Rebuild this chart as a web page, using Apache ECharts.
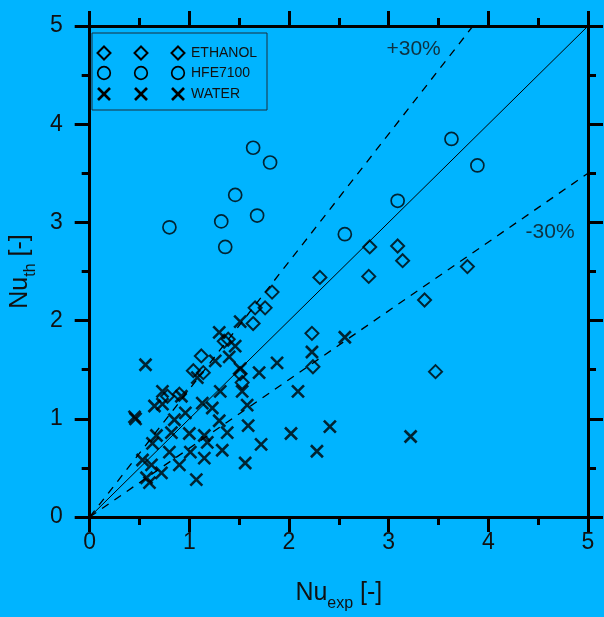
<!DOCTYPE html>
<html>
<head>
<meta charset="utf-8">
<script src="https://cdn.jsdelivr.net/npm/echarts@6/dist/echarts.min.js"></script>
<style>
html,body{margin:0;padding:0;background:#00b4ff;}
#chart{width:604px;height:617px;}
</style>
</head>
<body>
<div id="chart"></div>
<script>
// ---- data ----
const axisTicks = [0, 1, 2, 3, 4, 5];
const seriesNames = ['ETHANOL', 'HFE7100', 'WATER'];

const ethanol = [
  [1.83, 2.29], [1.76, 2.13], [1.66, 2.13], [1.64, 1.97], [1.39, 1.81], [1.35, 1.79],
  [1.12, 1.64], [1.04, 1.49], [1.14, 1.47], [1.51, 1.46], [1.53, 1.37], [0.78, 1.23],
  [0.90, 1.25], [2.31, 2.44], [2.81, 2.75], [3.09, 2.76], [3.14, 2.61], [2.80, 2.45],
  [3.36, 2.21], [3.79, 2.55], [3.47, 1.48], [2.23, 1.87], [2.24, 1.53]
];

const hfe7100 = [
  [0.80, 2.95], [1.32, 3.01], [1.36, 2.75], [1.46, 3.28], [1.64, 3.76], [1.68, 3.07],
  [1.81, 3.61], [2.56, 2.88], [3.09, 3.22], [3.63, 3.85], [3.89, 3.58]
];

const water = [
  [1.51, 1.99], [1.30, 1.88], [1.46, 1.74], [1.26, 1.59], [1.40, 1.63], [0.56, 1.55],
  [1.88, 1.57], [1.70, 1.47], [1.51, 1.51], [1.08, 1.42], [1.31, 1.28], [1.53, 1.28],
  [0.73, 1.28], [0.92, 1.23], [0.65, 1.13], [0.73, 1.15], [1.13, 1.16], [1.23, 1.11],
  [1.58, 1.14], [0.45, 1.02], [0.46, 1.00], [0.85, 0.99], [0.96, 1.06], [1.30, 0.98],
  [1.59, 0.93], [1.38, 0.86], [0.67, 0.83], [0.82, 0.86], [1.00, 0.85], [1.15, 0.83],
  [1.18, 0.76], [0.63, 0.75], [0.80, 0.66], [1.01, 0.66], [1.33, 0.68], [1.72, 0.74],
  [1.15, 0.60], [0.53, 0.58], [0.62, 0.53], [0.90, 0.53], [0.72, 0.45], [1.56, 0.55],
  [0.57, 0.40], [0.60, 0.35], [1.07, 0.38], [2.09, 1.28], [2.41, 0.92], [2.02, 0.85],
  [2.28, 0.67], [2.23, 1.68], [2.56, 1.83], [3.22, 0.82]
];

const perfectLine = [[0, 0], [5, 5]];
const plus30Line = [[0, 0], [3.846, 5]];
const minus30Line = [[0, 0], [5, 3.5]];

const annotationNames = ['+30%', '-30%'];
const annotationPos = [[3.25, 4.76], [4.62, 2.90]];

// ---- chart ----
const FONT = 'Liberation Sans, Arial, Helvetica, sans-serif';
const TXT = '#111';
const chart = echarts.init(document.getElementById('chart'), null, {renderer: 'canvas'});

function axisCommon(extra) {
  return Object.assign({
    type: 'value', min: 0, max: 5, interval: 1,
    axisLine: {onZero: false, lineStyle: {color: '#000', width: 3}},
    axisTick: {show: true, inside: false, length: 15, lineStyle: {color: '#000', width: 3}},
    minorTick: {show: true, splitNumber: 2, length: 8, lineStyle: {color: '#000', width: 3}},
    splitLine: {show: false}, minorSplitLine: {show: false},
    axisLabel: {show: true, fontSize: 23, color: TXT, fontFamily: FONT,
      formatter: v => (axisTicks.indexOf(v) >= 0 ? String(v) : '')}
  }, extra);
}

const richName = {
  a: {fontSize: 25, color: TXT, fontFamily: FONT, verticalAlign: 'bottom', padding: [0, 0, 6, 0]},
  b: {fontSize: 16, color: TXT, fontFamily: FONT, verticalAlign: 'bottom'}
};

const crossPath = 'path://M0,0L10,10M10,0L0,10';

const option = {
  backgroundColor: '#00b4ff',
  animation: false,
  grid: {left: 84, right: 16, top: 26, bottom: 89, containLabel: false},
  xAxis: [
    axisCommon({position: 'bottom', name: '{a|Nu}{b|exp}{a| [-]}', nameLocation: 'middle', nameGap: 64,
      nameTextStyle: {rich: richName}, axisLabel: {show: true, fontSize: 23, color: TXT, fontFamily: FONT, margin: 14}}),
    axisCommon({position: 'top', axisLabel: {show: false}})
  ],
  yAxis: [
    axisCommon({position: 'left', name: '{a|Nu}{b|th}{a| [-]}', nameLocation: 'middle', nameGap: 50,
      nameRotate: 90, nameTextStyle: {rich: richName}, axisLabel: {show: true, fontSize: 23, color: TXT, fontFamily: FONT, margin: 27}}),
    axisCommon({position: 'right', axisLabel: {show: false}})
  ],
  series: [
    {type: 'line', data: perfectLine, showSymbol: false, silent: true, z: 1,
      lineStyle: {color: '#000', width: 1, type: 'solid'}},
    {type: 'line', data: plus30Line, showSymbol: false, silent: true, z: 1,
      lineStyle: {color: '#000', width: 1.3, type: [8, 7]}},
    {type: 'line', data: minus30Line, showSymbol: false, silent: true, z: 1,
      lineStyle: {color: '#000', width: 1.3, type: [8, 7]}},
    {name: seriesNames[0], type: 'scatter', data: ethanol, symbol: 'diamond', symbolSize: 13, z: 3,
      itemStyle: {color: 'rgba(0,0,0,0)', borderColor: '#000', borderWidth: 2}},
    {name: seriesNames[1], type: 'scatter', data: hfe7100, symbol: 'circle', symbolSize: 13, z: 3,
      itemStyle: {color: 'rgba(0,0,0,0)', borderColor: '#000', borderWidth: 1.7}},
    {name: seriesNames[2], type: 'scatter', data: water, symbol: crossPath, symbolSize: 12, z: 3,
      itemStyle: {color: 'rgba(0,0,0,0)', borderColor: '#000', borderWidth: 2.6}},
    {type: 'scatter', symbolSize: 0, silent: true, z: 4,
      data: annotationNames.map((n, i) => ({name: n, value: annotationPos[i]})),
      label: {show: true, position: 'inside', formatter: p => p.name, fontSize: 21, color: TXT, fontFamily: FONT}}
  ],
  graphic: (function () {
    const els = [];
    els.push({type: 'rect', shape: {x: 92, y: 33, width: 175, height: 77},
      style: {fill: 'none', stroke: '#1b2f3d', lineWidth: 1}, z: 10});
    const xs = [104, 141, 178];
    const ys = [53, 73, 94];
    xs.forEach(x => {
      els.push({type: 'polygon', shape: {points: [[x, ys[0] - 6.5], [x + 6.5, ys[0]], [x, ys[0] + 6.5], [x - 6.5, ys[0]]]},
        style: {fill: 'none', stroke: '#000', lineWidth: 2}, z: 10});
      els.push({type: 'circle', shape: {cx: x, cy: ys[1], r: 6.3},
        style: {fill: 'none', stroke: '#000', lineWidth: 1.7}, z: 10});
      els.push({type: 'line', shape: {x1: x - 6, y1: ys[2] - 6, x2: x + 6, y2: ys[2] + 6},
        style: {stroke: '#000', lineWidth: 2.6}, z: 10});
      els.push({type: 'line', shape: {x1: x + 6, y1: ys[2] - 6, x2: x - 6, y2: ys[2] + 6},
        style: {stroke: '#000', lineWidth: 2.6}, z: 10});
    });
    seriesNames.forEach((n, i) => {
      els.push({type: 'text', x: 191, y: ys[i], z: 10,
        style: {text: n, fontSize: 14, fontFamily: FONT, fill: TXT, verticalAlign: 'middle', align: 'left'}});
    });
    return els;
  })()
};

chart.setOption(option);
</script>
</body>
</html>
